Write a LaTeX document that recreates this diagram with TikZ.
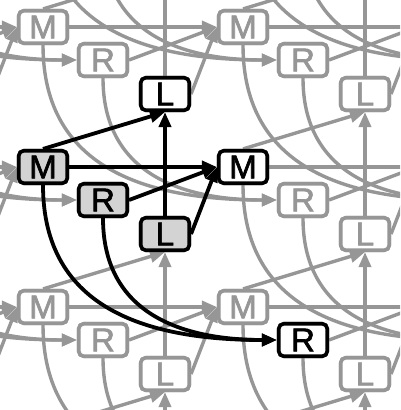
\documentclass[tikz,border=0pt]{standalone}
\usepackage{fontspec}
\setmainfont{Liberation Sans}[FakeBold=2]
\usetikzlibrary{arrows.meta}
\definecolor{gline}{RGB}{150,150,150}
\definecolor{hfill}{RGB}{211,211,211}
\tikzset{
 box/.style={rectangle, rounded corners=5pt, line width=3.6pt, minimum width=48.5pt, minimum height=32.5pt, inner sep=0pt, font=\fontsize{33}{33}\selectfont},
 gbox/.style={box, draw=gline, fill=white, text=gline},
 srcbox/.style={box, draw=black, fill=hfill, text=black},
 tgtbox/.style={box, draw=black, fill=white, text=black},
 gedge/.style={draw=gline, line width=3.4pt, -{Triangle[length=15pt,width=12pt]}},
 bedge/.style={draw=black, line width=3.8pt, -{Triangle[length=15pt,width=12pt]}},
 curv/.style={out=-90,in=180,looseness=1.15},
}
\begin{document}
\begin{tikzpicture}[x=1pt,y=-1pt]
\clip (0,0) rectangle (400,410);
% cell (i,j) -> index (i+2, j+2); period 200 x 140
\foreach \i in {0,...,4}{
 \foreach \j in {0,...,6}{
  \pgfmathsetmacro\mx{43+200*(\i-2)}
  \pgfmathsetmacro\my{27+140*(\j-2)}
  \pgfmathsetmacro\rx{103+200*(\i-2)}
  \pgfmathsetmacro\ry{60+140*(\j-2)}
  \pgfmathsetmacro\lx{165+200*(\i-2)}
  \pgfmathsetmacro\ly{94+140*(\j-2)}
  \coordinate (cM\i\j) at (\mx,\my);
  \coordinate (cR\i\j) at (\rx,\ry);
  \coordinate (cL\i\j) at (\lx,\ly);
  \node[gbox] (M\i\j) at (cM\i\j) {M};
  \node[gbox] (R\i\j) at (cR\i\j) {R};
  \node[gbox] (L\i\j) at (cL\i\j) {L};
 }
}
% grey edges
\foreach \i in {0,...,3}{
 \foreach \j in {1,...,5}{
  \pgfmathtruncatemacro\ip{\i+1}
  \pgfmathtruncatemacro\jm{\j-1}
  \pgfmathtruncatemacro\jp{\j+1}
  \pgfmathtruncatemacro\hl{(\i==2)&&(\j==3)}
  \ifnum\hl=0
   \draw[gedge] (M\i\j.east) -- (M\ip\j.west);
   \draw[gedge] (R\i\j.east) -- (M\ip\j.west);
   \draw[gedge] (L\i\j.east) -- (M\ip\j.west);
   \draw[gedge] (M\i\j.north) -- (L\i\jm.south);
   \draw[gedge] (L\i\j.north) -- (L\i\jm.south);
   \draw[gedge] (M\i\j.south) to[curv] (R\ip\jp.west);
   \draw[gedge] (R\i\j.south) to[curv] (R\ip\jp.west);
  \fi
 }
}
% grey nodes on top of grey edges
\foreach \i in {0,...,4}{
 \foreach \j in {0,...,6}{
  \node[gbox] at (cM\i\j) {M};
  \node[gbox] at (cR\i\j) {R};
  \node[gbox] at (cL\i\j) {L};
 }
}
% highlighted edges
\draw[bedge] (M23.east) -- (M33.west);
\draw[bedge] (R23.east) -- (M33.west);
\draw[bedge] (L23.east) -- (M33.west);
\draw[bedge] (M23.north) -- (L22.south);
\draw[bedge] (L23.north) -- (L22.south);
\draw[bedge] (M23.south) to[curv] (R34.west);
\draw[bedge] (R23.south) to[curv] (R34.west);
% highlighted nodes
\node[srcbox] at (cM23) {M};
\node[srcbox] at (cR23) {R};
\node[srcbox] at (cL23) {L};
\node[tgtbox] at (cL22) {L};
\node[tgtbox] at (cM33) {M};
\node[tgtbox] at (cR34) {R};
\end{tikzpicture}
\end{document}
